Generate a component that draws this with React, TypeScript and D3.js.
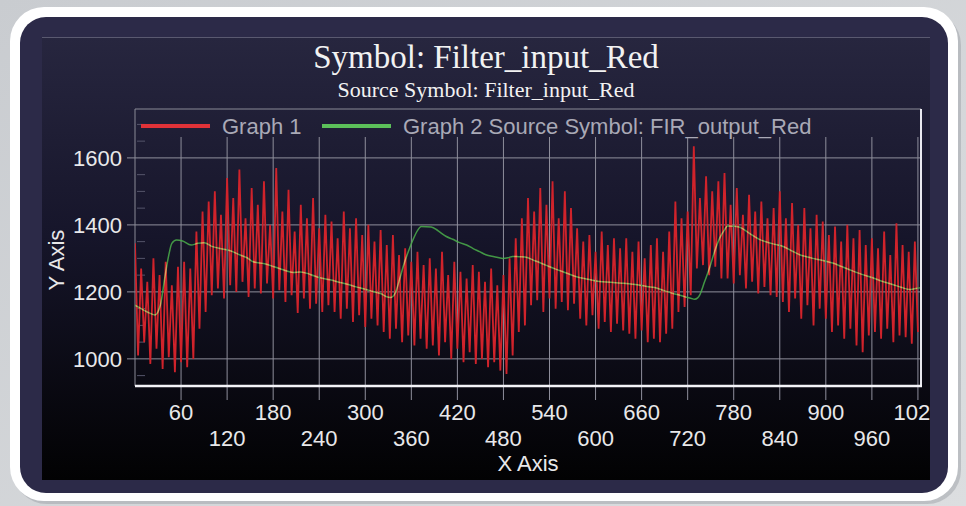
import React from 'react';
import * as d3 from 'd3';

// red input signal: peak / trough of each ~8 sample cycle
const redHigh = [
  1345, 1270, 1230, 1300, 1250, 1290, 1220, 1275,
  1290, 1270, 1380, 1440, 1470, 1500, 1430, 1540,
  1480, 1565, 1420, 1510, 1460, 1530, 1400, 1570,
  1440, 1505, 1380, 1460, 1420, 1480, 1390, 1430,
  1410, 1360, 1440, 1390, 1420, 1370, 1400, 1350,
  1385, 1340, 1370, 1310, 1330, 1290, 1320, 1280,
  1300, 1270, 1320, 1250, 1290, 1260, 1240, 1280,
  1260, 1230, 1270, 1220, 1250, 1300, 1360, 1420,
  1480, 1440, 1510, 1460, 1530, 1420, 1500, 1450,
  1390, 1350, 1370, 1320, 1380, 1340, 1360, 1330,
  1360, 1320, 1350, 1300, 1340, 1360, 1320, 1380,
  1470, 1420, 1440, 1635, 1480, 1545, 1500, 1530,
  1555, 1460, 1510, 1430, 1490, 1440, 1470, 1420,
  1450, 1500, 1420, 1465, 1400, 1450, 1390, 1430,
  1410, 1370, 1395, 1350, 1400, 1360, 1385, 1340,
  1360, 1330, 1380, 1310, 1405, 1340, 1320, 1350,
];
const redLow = [
  1010, 1050, 985, 1030, 970, 1005, 960, 990,
  975, 1000, 1090, 1140, 1190, 1210, 1180, 1220,
  1200, 1230, 1185, 1210, 1195, 1225, 1180, 1205,
  1170, 1190, 1137, 1180, 1150, 1165, 1140, 1160,
  1140, 1120, 1150, 1110, 1130, 1095, 1120, 1100,
  1080, 1060, 1090, 1050, 1070, 1040, 1060, 1030,
  1040, 1010, 1050, 1000, 1030, 990, 1020, 985,
  1000, 975, 990, 965, 955, 1010, 1080, 1100,
  1160, 1175, 1140, 1180, 1150, 1170, 1145, 1165,
  1120, 1100, 1130, 1090, 1110, 1080, 1105, 1085,
  1075, 1060, 1085, 1050, 1060, 1050, 1075, 1090,
  1140, 1155, 1190, 1270, 1280, 1250, 1275, 1240,
  1240, 1225, 1250, 1210, 1230, 1195, 1215, 1190,
  1185, 1170, 1140, 1180, 1120, 1160, 1100, 1150,
  1120, 1080, 1100, 1060, 1090, 1040, 1020, 1070,
  1080, 1060, 1090, 1050, 1070, 1065, 1045, 1080,
];
const redStep = 8;

// green FIR output
const greenX = [
  0, 8, 16, 26, 33, 39, 44, 48, 54, 62, 73, 82, 90, 101, 114, 125, 137, 146, 154, 169,
  180, 193, 206, 215, 223, 233, 241, 254, 267, 278, 288, 300, 310, 320, 327, 333, 339, 345,
  350, 356, 362, 368, 373, 386, 395, 405, 414, 423, 432, 440, 449, 457, 468, 479, 486, 492,
  500, 508, 522, 535, 548, 561, 574, 590, 605, 620, 635, 648, 658, 667, 677, 690, 700, 710,
  717, 724, 729, 733, 736, 742, 749, 755, 762, 768, 772, 780, 788, 801, 814, 830, 846, 856,
  866, 875, 883, 896, 909, 920, 931, 946, 961, 974, 987, 998, 1009, 1017, 1024,
];
const greenY = [
  1160, 1150, 1140, 1131, 1160, 1245, 1310, 1345, 1355, 1352, 1340, 1345, 1347, 1335, 1328, 1322, 1310, 1302, 1290, 1284,
  1276, 1266, 1258, 1259, 1256, 1248, 1242, 1236, 1228, 1222, 1215, 1208, 1201, 1195, 1186, 1183, 1196, 1240,
  1280, 1320, 1355, 1383, 1395, 1394, 1382, 1366, 1357, 1347, 1340, 1330, 1320, 1311, 1305, 1300, 1302, 1306,
  1305, 1304, 1292, 1280, 1268, 1257, 1246, 1238, 1231, 1229, 1226, 1223, 1220, 1216, 1213, 1203, 1196, 1190,
  1185, 1181, 1178, 1182, 1192, 1230, 1275, 1320, 1362, 1385, 1397, 1396, 1393, 1374, 1356, 1344, 1334, 1322,
  1311, 1305, 1300, 1294, 1286, 1276, 1266, 1253, 1242, 1231, 1222, 1214, 1207, 1210, 1212,
];

const xTicks = [60, 120, 180, 240, 300, 360, 420, 480, 540, 600, 660, 720, 780, 840, 900, 960, 1020];
const yTicks = [1000, 1200, 1400, 1600];
const yMinorTicks = [950, 1050, 1100, 1150, 1250, 1300, 1350, 1450, 1500, 1550, 1650, 1700];

const W = 966;
const H = 506;
const plot = { left: 135, right: 921, top: 109, bottom: 386 };
const sans = '"Liberation Sans", Arial, sans-serif';
const serif = '"Liberation Serif", "Times New Roman", serif';

export default function App() {
  const x = d3.scaleLinear().domain([0, 1024]).range([plot.left, plot.right]);
  const y = d3.scaleLinear().domain([919, 1746]).range([plot.bottom, plot.top]);

  const redPts: [number, number][] = [];
  redHigh.forEach((h, i) => {
    redPts.push([i * redStep, h]);
    redPts.push([i * redStep + redStep / 2, redLow[i]]);
  });
  const redLine = d3.line<[number, number]>().x(d => x(d[0])).y(d => y(d[1]));
  const greenLine = d3.line<number>()
    .x(d => x(d))
    .y((d, i) => y(greenY[i]))
    .curve(d3.curveMonotoneX);

  return (
    <svg width={W} height={H} style={{ position: 'absolute', left: 0, top: 0, display: 'block' }}>
      <defs>
        <linearGradient id="panelGrad" x1="0" y1="0" x2="0" y2="1">
          <stop offset="0%" stopColor="#27263f" />
          <stop offset="45%" stopColor="#16152a" />
          <stop offset="100%" stopColor="#020203" />
        </linearGradient>
        <linearGradient id="bgGrad" x1="0" y1="0" x2="1" y2="1">
          <stop offset="0%" stopColor="#c9ccd0" />
          <stop offset="100%" stopColor="#dcdee0" />
        </linearGradient>
        <clipPath id="panelClip">
          <rect x={42} y={37} width={888} height={443} />
        </clipPath>
        <clipPath id="plotClip">
          <rect x={plot.left} y={plot.top} width={plot.right - plot.left} height={plot.bottom - plot.top} />
        </clipPath>
      </defs>

      {/* frame */}
      <rect x={0} y={0} width={W} height={H} fill="url(#bgGrad)" />
      <rect x={13} y={11} width={948} height={493} rx={34} fill="#9ea2a8" opacity={0.5} />
      <rect x={10} y={7} width={948} height={494} rx={34} fill="#ffffff" />
      <rect x={20} y={17} width={928} height={476} rx={26} fill="#2c2a48" />

      <g clipPath="url(#panelClip)">
        <rect x={42} y={37} width={888} height={443} fill="url(#panelGrad)" />
        <line x1={42} x2={930} y1={37.5} y2={37.5} stroke="#5a5970" />

        {/* title */}
        <text x={486} y={68} textAnchor="middle" fontFamily={serif} fontSize={33} fill="#f2f2f2">
          Symbol: Filter_input_Red
        </text>
        <text x={486} y={97} textAnchor="middle" fontFamily={serif} fontSize={22} fill="#f2f2f2">
          Source Symbol: Filter_input_Red
        </text>

        {/* grid */}
        {yTicks.map(t => (
          <line key={'h' + t} x1={plot.left - 8} x2={plot.right} y1={y(t)} y2={y(t)} stroke="#8f8f9c" strokeWidth={1} />
        ))}
        {yMinorTicks.map(t => (
          <line key={'m' + t} x1={plot.left + 2} x2={plot.left + 10} y1={y(t)} y2={y(t)} stroke="#55556a" strokeWidth={1} />
        ))}
        {xTicks.map(t => (
          <line key={'v' + t} x1={x(t)} x2={x(t)} y1={137} y2={plot.bottom + 14} stroke="#8f8f9c" strokeWidth={1} />
        ))}

        {/* plot border */}
        <line x1={plot.left} x2={plot.right} y1={plot.top} y2={plot.top} stroke="#8a8a96" />
        <line x1={plot.left} x2={plot.left} y1={plot.top} y2={plot.bottom} stroke="#8a8a96" />

        {/* series */}
        <g clipPath="url(#plotClip)">
          <path d={redLine(redPts) || ''} fill="none" stroke="#d0232b" strokeWidth={1.8} />
          <path d={greenLine(greenX) || ''} fill="none" stroke="#4aae4a" strokeWidth={1.5}
            opacity={0.85} style={{ mixBlendMode: 'screen' }} />
        </g>

        <line x1={plot.right} x2={plot.right} y1={plot.top} y2={plot.bottom} stroke="#e8e8ee" strokeWidth={2} />
        <line x1={plot.left} x2={plot.right + 1} y1={plot.bottom} y2={plot.bottom} stroke="#f4f4f8" strokeWidth={2.5} />

        {/* legend */}
        <line x1={141} x2={210} y1={126} y2={126} stroke="#e03238" strokeWidth={4} />
        <text x={222} y={134} fontFamily={sans} fontSize={22} fill="#a9a9b6">Graph 1</text>
        <line x1={322} x2={391} y1={126} y2={126} stroke="#5cc05a" strokeWidth={4} />
        <text x={403} y={134} fontFamily={sans} fontSize={22} fill="#a9a9b6">
          Graph 2 Source Symbol: FIR_output_Red
        </text>

        {/* axes labels */}
        {yTicks.map(t => (
          <text key={'yl' + t} x={122} y={y(t) + 8} textAnchor="end" fontFamily={sans} fontSize={22} fill="#e8e8ea">
            {t}
          </text>
        ))}
        {xTicks.map((t, i) => (
          <text key={'xl' + t} x={x(t)} y={i % 2 === 0 ? 420 : 446} textAnchor="middle"
            fontFamily={sans} fontSize={22} fill="#e8e8ea">
            {t}
          </text>
        ))}
        <text x={528} y={471} textAnchor="middle" fontFamily={sans} fontSize={22} fill="#e8e8ea">X Axis</text>
        <text transform="translate(64,260) rotate(-90)" textAnchor="middle" fontFamily={sans} fontSize={22} fill="#e8e8ea">
          Y Axis
        </text>
      </g>
    </svg>
  );
}
